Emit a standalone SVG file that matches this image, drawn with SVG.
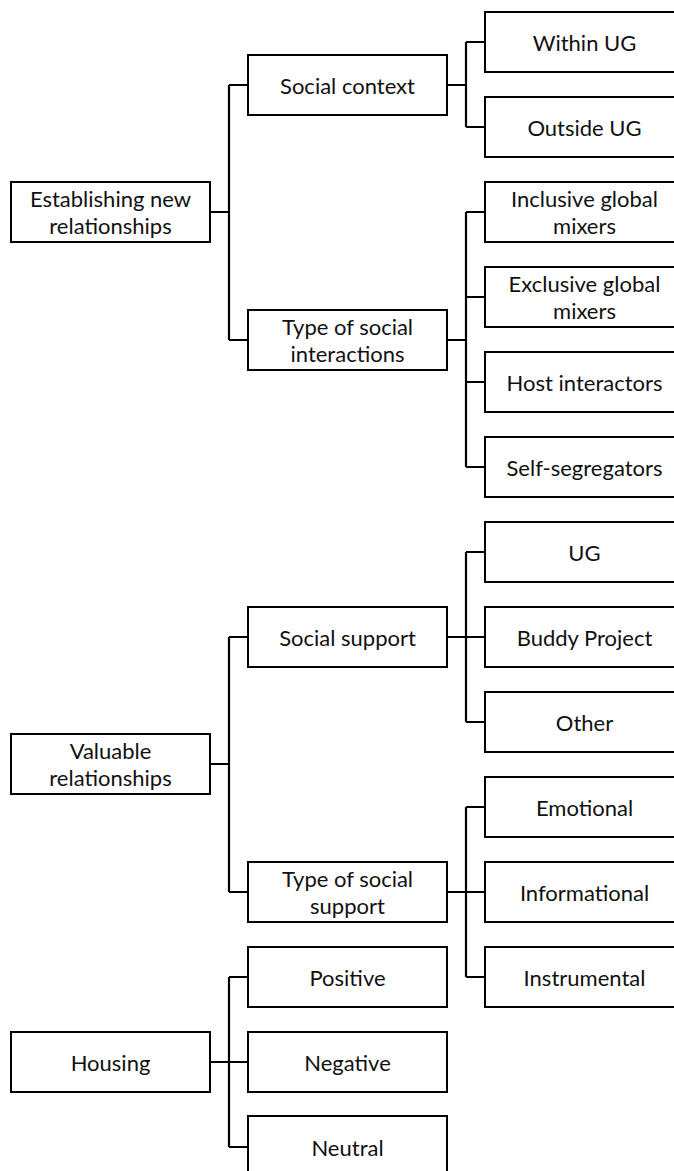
<svg xmlns="http://www.w3.org/2000/svg" width="674" height="1171" viewBox="0 0 674 1171">
<style>
rect{fill:#fff;stroke:#000;stroke-width:2}
.c path{fill:none;stroke:#000;stroke-width:2.2}
text{font-family:Lato,"Liberation Sans",sans-serif;font-size:22px;fill:#111;text-anchor:middle;dominant-baseline:central}
</style>
<rect x="0" y="0" width="674" height="1171" style="stroke:none"/>
<g class="c" id="connectors">
<path d="M210 212H229M229 85V340M229 85H248M229 340H248"/>
<path d="M447 85H466M466 42V127M466 42H485M466 127H485"/>
<path d="M447 340H466M466 212V467M466 212H485M466 297H485M466 382H485M466 467H485"/>
<path d="M210 764H229M229 637V892M229 637H248M229 892H248"/>
<path d="M447 637H466M466 552V722M466 552H485M466 637H485M466 722H485"/>
<path d="M447 892H466M466 807V977M466 807H485M466 892H485M466 977H485"/>
<path d="M210 1062H229M229 977V1147M229 977H248M229 1062H248M229 1147H248"/>
</g>
<g id="n-establishing"><rect x="11" y="182" width="199" height="60"/><text x="110.5" y="198.5">Establishing new</text><text x="110.5" y="225.5">relationships</text></g>
<g id="n-social-context"><rect x="248" y="55" width="199" height="60"/><text x="347.5" y="85">Social context</text></g>
<g id="n-within"><rect x="485" y="12" width="200" height="60"/><text x="584.5" y="42">Within UG</text></g>
<g id="n-outside"><rect x="485" y="97" width="200" height="60"/><text x="584.5" y="127">Outside UG</text></g>
<g id="n-type-interactions"><rect x="248" y="310" width="199" height="60"/><text x="347.5" y="326.5">Type of social</text><text x="347.5" y="353.5">interactions</text></g>
<g id="n-inclusive"><rect x="485" y="182" width="200" height="60"/><text x="584.5" y="198.5">Inclusive global</text><text x="584.5" y="225.5">mixers</text></g>
<g id="n-exclusive"><rect x="485" y="267" width="200" height="60"/><text x="584.5" y="283.5">Exclusive global</text><text x="584.5" y="310.5">mixers</text></g>
<g id="n-host"><rect x="485" y="352" width="200" height="60"/><text x="584.5" y="382">Host interactors</text></g>
<g id="n-self"><rect x="485" y="437" width="200" height="60"/><text x="584.5" y="467">Self-segregators</text></g>
<g id="n-valuable"><rect x="11" y="734" width="199" height="60"/><text x="110.5" y="750.5">Valuable</text><text x="110.5" y="777.5">relationships</text></g>
<g id="n-social-support"><rect x="248" y="607" width="199" height="60"/><text x="347.5" y="637">Social support</text></g>
<g id="n-ug"><rect x="485" y="522" width="200" height="60"/><text x="584.5" y="552">UG</text></g>
<g id="n-buddy"><rect x="485" y="607" width="200" height="60"/><text x="584.5" y="637">Buddy Project</text></g>
<g id="n-other"><rect x="485" y="692" width="200" height="60"/><text x="584.5" y="722">Other</text></g>
<g id="n-type-support"><rect x="248" y="862" width="199" height="60"/><text x="347.5" y="878.5">Type of social</text><text x="347.5" y="905.5">support</text></g>
<g id="n-emotional"><rect x="485" y="777" width="200" height="60"/><text x="584.5" y="807">Emotional</text></g>
<g id="n-informational"><rect x="485" y="862" width="200" height="60"/><text x="584.5" y="892">Informational</text></g>
<g id="n-instrumental"><rect x="485" y="947" width="200" height="60"/><text x="584.5" y="977">Instrumental</text></g>
<g id="n-housing"><rect x="11" y="1032" width="199" height="60"/><text x="110.5" y="1062">Housing</text></g>
<g id="n-positive"><rect x="248" y="947" width="199" height="60"/><text x="347.5" y="977">Positive</text></g>
<g id="n-negative"><rect x="248" y="1032" width="199" height="60"/><text x="347.5" y="1062">Negative</text></g>
<g id="n-neutral"><rect x="248" y="1116" width="199" height="60"/><text x="347.5" y="1147">Neutral</text></g>
</svg>
